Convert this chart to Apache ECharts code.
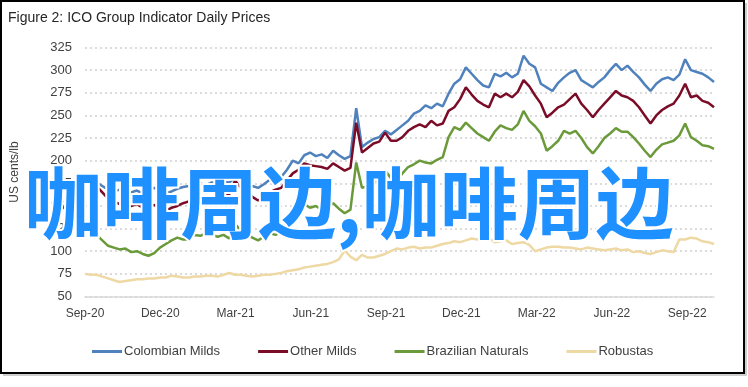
<!DOCTYPE html>
<html>
<head>
<meta charset="utf-8">
<script src="https://cdn.jsdelivr.net/npm/echarts@6/dist/echarts.min.js"></script>
<style>
html,body{margin:0;padding:0;background:#fff;}
#chart{width:748px;height:387px;}
</style>
</head>
<body>
<div id="chart"></div>
<script>
// Weekly observations starting 2020-09-01 (US cents/lb)
const startDate = '2020-09-01';
const stepDays = 7;
const tickLabels = ['Sep-20','Dec-20','Mar-21','Jun-21','Sep-21','Dec-21','Mar-22','Jun-22','Sep-22'];
const seriesNames = ['Colombian Milds','Other Milds','Brazilian Naturals','Robustas'];

const colombianMilds = [180,178,176,172,168,166,168,164,165,167,164,168,170,166,164,166,169,171,172,176,
175,173,176,174,177,176,181,178,175,172,170,174,179,184,182,190,200,197,206,209,
205,207,203,211,206,202,205,258,215,220,224,226,233,229,234,239,244,252,255,261,
258,263,260,274,285,290,303,296,289,283,281,296,293,297,292,296,316,307,303,285,
281,277,286,292,297,300,289,285,281,287,292,300,307,300,305,298,292,284,277,285,
290,292,289,295,312,300,298,296,292,287];

const otherMilds = [178,176,172,165,158,155,152,154,150,152,148,150,151,148,145,148,150,153,155,157,
158,155,156,158,160,163,178,170,166,160,156,160,165,168,170,178,186,190,197,195,
194,193,191,197,193,189,192,242,209,214,219,221,231,222,222,226,233,237,240,237,
244,239,241,255,259,268,281,273,266,262,259,274,270,274,270,276,289,282,272,263,
248,253,259,262,268,274,263,256,248,256,263,270,277,272,270,266,259,250,241,250,
256,260,263,272,285,270,272,266,264,259];

const brazilianNaturals = [126,122,118,112,106,104,102,103,99,100,97,95,98,104,108,112,115,113,113,118,
117,120,118,116,118,114,130,123,120,115,112,116,120,118,121,132,134,145,152,148,
150,146,149,153,147,142,146,198,170,172,175,180,189,181,178,186,193,196,200,198,
197,201,204,226,237,234,242,236,230,226,222,232,239,236,234,240,255,244,238,230,
211,216,222,233,230,233,225,215,208,216,225,230,236,232,232,226,219,211,204,212,
218,220,222,228,241,226,222,217,216,213];

const robustas = [75,74,74,72,70,68,66,67,68,69,69,70,70,71,71,73,72,71,71,72,
72,73,73,72,74,76,74,74,73,72,73,74,74,75,76,78,79,80,82,83,
84,85,86,88,91,101,94,90,96,93,93,95,97,100,103,102,104,105,103,104,
104,106,108,109,111,110,112,114,113,113,114,110,111,112,108,109,110,107,100,102,
104,105,105,104,104,103,102,104,103,102,101,102,103,101,102,99,100,98,97,99,
101,100,99,113,113,115,114,111,110,108];

const colors = ['#4F81BD','#7B0C28','#6A9A3A','#EED8A4'];
const FONT = "'Liberation Sans', Arial, sans-serif";

const DAYS_PER_MONTH = 30.4375;
function monthPos(i){ return i * stepDays / DAYS_PER_MONTH; }
function toPairs(arr){ return arr.map((v,i)=>[monthPos(i), v]); }
const allSeries = [colombianMilds, otherMilds, brazilianNaturals, robustas];
const xMax = monthPos(colombianMilds.length - 1);

const chart = echarts.init(document.getElementById('chart'), null, {renderer:'canvas'});
chart.setOption({
  animation: false,
  backgroundColor: '#fff',
  title: {
    text: 'Figure 2: ICO Group Indicator Daily Prices',
    left: 3, top: 6,
    textStyle: {fontFamily: FONT, fontSize: 14, fontWeight: 'normal', color: '#262626'}
  },
  grid: {left: 85, right: 34, top: 47.5, bottom: 90.5, containLabel: false},
  legend: {
    left: 87, top: 340,
    icon: 'rect', itemWidth: 30, itemHeight: 3, itemGap: 38,
    textStyle: {fontFamily: FONT, fontSize: 13, color: '#404040', padding: [0,0,0,-3]},
    data: seriesNames
  },
  xAxis: {
    type: 'value', min: 0, max: xMax, interval: 3,
    axisLine: {show: true, lineStyle: {color: '#D9D9D9', width: 1.5}},
    axisTick: {show: false},
    splitLine: {show: false},
    axisLabel: {
      margin: 11, fontFamily: FONT, fontSize: 12, color: '#404040',
      showMaxLabel: false,
      formatter: function(v){
        const k = Math.round(v/3);
        if (Math.abs(v - k*3) > 1e-6) return '';
        return tickLabels[k] || '';
      }
    }
  },
  yAxis: {
    type: 'value', min: 50, max: 325, interval: 25,
    name: 'US cents/lb', nameLocation: 'middle', nameGap: 64, nameRotate: 90,
    nameTextStyle: {fontFamily: FONT, fontSize: 12, color: '#404040'},
    axisLine: {show: false}, axisTick: {show: false},
    axisLabel: {margin: 13, fontFamily: FONT, fontSize: 13, color: '#404040'},
    splitLine: {show: true, lineStyle: {color: '#D0D0D0', type: [2,3], width: 1.5}}
  },
  series: seriesNames.map((name, i) => ({
    name: name, type: 'line', data: toPairs(allSeries[i]),
    showSymbol: false, symbol: 'none',
    lineStyle: {color: colors[i], width: 2.5},
    itemStyle: {color: colors[i]},
    z: 2 + i
  })),
  graphic: [
    {type: 'rect', shape: {x: 1, y: 1, width: 743, height: 372},
     style: {fill: 'none', stroke: '#000', lineWidth: 2}, z: 50, silent: true},
    {type: 'polyline', shape: {points: [[746, 3],[746, 375],[3, 375]]},
     style: {fill: 'none', stroke: '#BFBFBF', lineWidth: 1.5}, z: 50, silent: true},
    {type: 'text', x: 349, y: 203, z: 100, silent: true,
     style: {text: '咖啡周边,咖啡周边', fontFamily: "'Noto Sans CJK SC', sans-serif",
       fontSize: 78, fontWeight: 'bold', fill: '#1E90FF',
       stroke: '#ffffff', lineWidth: 4,
       align: 'center', verticalAlign: 'middle'}}
  ]
});
</script>
</body>
</html>
